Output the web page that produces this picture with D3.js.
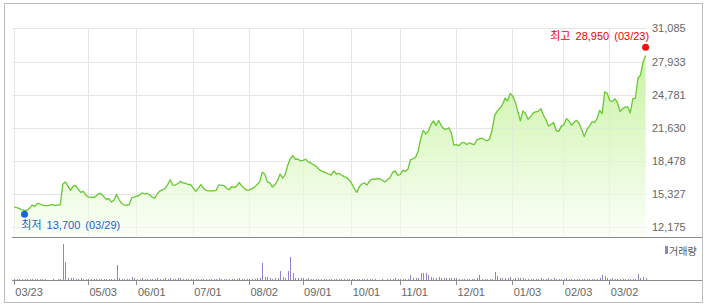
<!DOCTYPE html>
<html><head><meta charset="utf-8">
<script src="https://cdn.jsdelivr.net/npm/d3@7"></script>
<style>
html,body{margin:0;padding:0;background:#fff;}
svg{display:block;}
text{font-family:"Liberation Sans","Noto Sans CJK KR",Arial,sans-serif;}
</style></head>
<body><svg id="c" width="706" height="306"></svg>
<script>
// ---- data ----
const closes = [
14100,14050,13950,13850,13800,13800,14000,14300,14150,14450,
14400,14300,14250,14250,14300,14350,14250,14300,14350,16300,
16500,16100,15700,16100,16150,15800,15500,15600,15250,15050,
15050,15000,15150,15400,15350,15100,14850,14900,14600,14750,
15300,14800,14450,14300,14300,14350,15000,15050,15150,15250,
15450,15350,15400,15250,15050,14950,15400,15650,15750,15900,
16250,16700,16200,16200,16350,16550,16400,16350,16250,16250,
15900,15600,15900,16250,15900,15700,15650,15650,15650,15700,
16200,16200,16150,15900,15750,16050,15950,16100,16450,16100,
15900,15700,15750,15850,16000,16250,16500,17400,17250,16500,
16400,16000,16250,16650,17250,16850,17200,18100,18700,19000,
18650,18650,18500,18550,18650,18400,18300,18150,18000,17750,
17550,17450,17350,17250,17150,17550,17250,17300,17150,17000,
16900,16700,16350,15850,15500,16050,16300,16400,16200,16600,
16750,16750,16800,16800,16650,16500,16700,16900,17400,17550,
17150,17200,17600,17500,17700,18600,18700,18850,19400,20600,
21400,21050,21300,21950,22300,21850,22350,21850,21550,21500,
21650,21150,20000,20050,19950,20200,20250,20050,20200,20100,
20050,20500,20600,20650,20500,20400,20600,21500,22850,23250,
23500,23850,24450,24200,24900,24650,24100,23200,22300,23250,
23000,22450,22700,23050,23150,23200,23450,22850,22400,21800,
21950,22150,21400,21300,21800,21900,22500,22300,21900,22150,
22350,22050,21450,20800,21450,21800,22200,22150,22500,23300,
23000,25050,24900,24200,24150,24400,24000,23200,23450,23600,
23650,23050,24400,24450,26350,26650,27900,28500
];
const volumes = [
100,100,100,100,100,100,100,100,100,100,
100,100,100,0,0,100,0,100,100,3600,
1770,240,240,240,140,140,240,140,100,100,
100,100,100,100,100,100,100,100,100,100,
1460,240,140,100,100,100,340,160,100,100,
160,100,100,100,100,100,160,100,100,240,
100,240,100,100,160,160,100,100,100,100,
100,100,100,100,100,100,100,100,100,100,
160,100,100,100,100,100,100,100,240,100,
100,100,100,100,100,160,160,1660,340,340,
160,100,160,160,950,340,240,950,2280,750,
240,160,160,160,100,160,100,100,100,100,
100,100,100,100,100,100,100,100,100,100,
100,100,100,100,100,100,100,100,100,100,
100,100,0,0,100,0,100,100,100,160,
100,100,100,100,100,500,240,160,240,730,
730,730,470,330,240,160,340,160,240,160,
240,160,240,240,100,100,100,100,100,100,
100,160,540,100,100,100,100,100,850,440,
160,160,160,160,340,100,160,160,160,160,
100,100,100,100,100,100,160,100,100,240,
100,160,100,100,100,100,160,100,100,100,
100,100,100,100,100,100,100,100,100,160,
540,440,160,100,240,100,100,100,100,100,
100,100,100,100,630,240,340,160
];
const tickIndex = [0,29,48,70,92,113,132,151,173,195,215,233];
const tickLabels = ["03/23","05/03","06/01","07/01","08/02","09/01","10/01","11/01","12/01","01/03","02/03","03/02"];
const yTicks = [12175,15327,18478,21630,24781,27933,31085];
const highInfo = {index:247, value:28950, date:"03/23", label:"최고"};
const lowInfo  = {index:4,   value:13700, date:"03/29", label:"최저"};
const volumeLegend = "거래량";

// ---- drawing ----
const svg = d3.select("#c");
const fmt = d3.format(",");

const x = d3.scaleLinear().domain([0, closes.length-1]).range([14.3, 645.6]);
const y = d3.scaleLinear().domain([12175, 31085]).range([227.4, 28.4]);
const vy = d3.scaleLinear().domain([0, 3600]).range([280, 244]);
const plotTop = 28, plotBottom = 237, plotLeft = 12, plotRight = 646;

// outer border
svg.append("rect").attr("x",4.5).attr("y",3.5).attr("width",698).attr("height",299)
  .attr("fill","#fff").attr("stroke","#bcbcbc").attr("stroke-width",1);

const defs = svg.append("defs");
const grad = defs.append("linearGradient").attr("id","ag")
  .attr("gradientUnits","userSpaceOnUse").attr("x1",0).attr("y1",plotTop).attr("x2",0).attr("y2",plotBottom);
grad.append("stop").attr("offset","0%").attr("stop-color","#c2f197");
grad.append("stop").attr("offset","100%").attr("stop-color","#fbfff8");

// grid
const g = svg.append("g").attr("shape-rendering","crispEdges");
g.selectAll(".hg").data(yTicks).join("line")
  .attr("x1",plotLeft).attr("x2",plotRight)
  .attr("y1",d=>Math.round(y(d))+0.5).attr("y2",d=>Math.round(y(d))+0.5)
  .attr("stroke","#e9e9e9");
g.selectAll(".vg").data(tickIndex).join("line")
  .attr("x1",d=>Math.floor(x(d))+0.5).attr("x2",d=>Math.floor(x(d))+0.5)
  .attr("y1",plotTop).attr("y2",plotBottom)
  .attr("stroke","#e9e9e9");

// area + line
const idx = d3.range(closes.length);
svg.append("path").datum(idx)
  .attr("d", d3.area().x(i=>x(i)).y0(plotBottom).y1(i=>y(closes[i])))
  .attr("fill","url(#ag)");
// grid faintly over the area
const g2 = svg.append("g").attr("shape-rendering","crispEdges").attr("opacity",0.35);
g2.selectAll("line.h").data(yTicks).join("line").attr("class","h")
  .attr("x1",plotLeft).attr("x2",plotRight)
  .attr("y1",d=>Math.round(y(d))+0.5).attr("y2",d=>Math.round(y(d))+0.5)
  .attr("stroke","#e0e0e0");
g2.selectAll("line.v").data(tickIndex).join("line").attr("class","v")
  .attr("x1",d=>Math.floor(x(d))+0.5).attr("x2",d=>Math.floor(x(d))+0.5)
  .attr("y1",plotTop).attr("y2",plotBottom)
  .attr("stroke","#e0e0e0");

svg.append("path").datum(idx)
  .attr("d", d3.line().x(i=>x(i)).y(i=>y(closes[i])))
  .attr("fill","none").attr("stroke","#66c92f").attr("stroke-width",1.3)
  .attr("stroke-linejoin","round");

// y labels
svg.selectAll(".yl").data(yTicks).join("text")
  .attr("x",652).attr("y",d=>y(d)).attr("dy","0.36em")
  .attr("font-size",11).attr("fill","#666").text(d=>fmt(d));

// separators
svg.append("line").attr("x1",12).attr("x2",702).attr("y1",237.5).attr("y2",237.5)
  .attr("stroke","#8c8c8c").attr("shape-rendering","crispEdges");
svg.append("line").attr("x1",12).attr("x2",702).attr("y1",280.5).attr("y2",280.5)
  .attr("stroke","#8c8c8c").attr("shape-rendering","crispEdges");

// volume bars
svg.append("g").attr("shape-rendering","crispEdges").selectAll("rect").data(idx).join("rect")
  .attr("x",i=>Math.round(x(i)))
  .attr("y",i=>vy(volumes[i]))
  .attr("width",1)
  .attr("height",i=>280-vy(volumes[i]))
  .attr("fill","#9583c8");

// x ticks and labels
svg.append("g").attr("shape-rendering","crispEdges").selectAll("line").data(tickIndex).join("line")
  .attr("x1",d=>Math.floor(x(d))+0.5).attr("x2",d=>Math.floor(x(d))+0.5)
  .attr("y1",280).attr("y2",285).attr("stroke","#8c8c8c");
svg.selectAll(".xl").data(tickIndex).join("text")
  .attr("x",d=>x(d)+1).attr("y",296)
  .attr("font-size",11).attr("fill","#666")
  .text((d,i)=>tickLabels[i]);

// legend
svg.append("rect").attr("x",665).attr("y",246).attr("width",3).attr("height",8).attr("fill","#9583c8");
svg.append("text").attr("x",669).attr("y",254.5).attr("font-size",10).attr("fill","#555")
  .attr("font-family","'Noto Sans CJK KR',sans-serif").text(volumeLegend);

// high / low markers
const hx = x(highInfo.index), hy = y(highInfo.value) - 3.5;
svg.append("circle").attr("cx",hx).attr("cy",hy).attr("r",3.5).attr("fill","#f01010");
svg.append("text").attr("x",hx+3.5).attr("y",hy-7.5).attr("text-anchor","end")
  .attr("font-size",11).attr("fill","#f00000").attr("word-spacing",2)
  .text(`${highInfo.label} ${fmt(highInfo.value)} (${highInfo.date})`);

const lx = x(lowInfo.index), ly = y(lowInfo.value) + 3;
svg.append("circle").attr("cx",lx).attr("cy",ly).attr("r",3.5).attr("fill","#1a66d6");
svg.append("text").attr("x",lx-3.2).attr("y",ly+14.8)
  .attr("font-size",11).attr("fill","#1a5fcf").attr("word-spacing",2)
  .text(`${lowInfo.label} ${fmt(lowInfo.value)} (${lowInfo.date})`);
</script></body></html>
